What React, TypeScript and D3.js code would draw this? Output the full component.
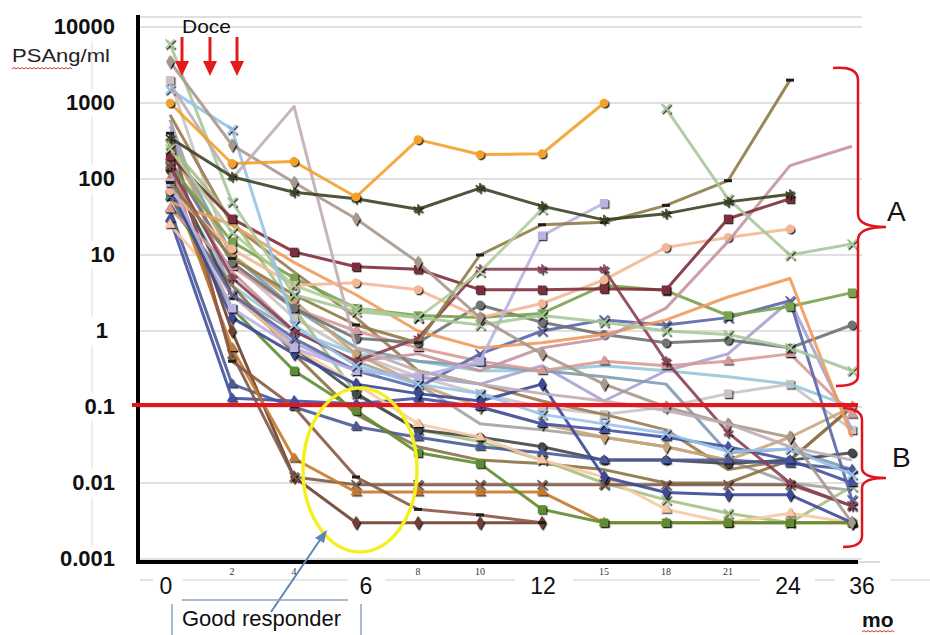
import React from 'react';
import * as d3 from 'd3';

// months after start of docetaxel (categorical, evenly spaced like the original sheet)
const months = ['0', '2', '4', '6', '8', '10', '12', '15', '18', '21', '24', '36'];
const smallMonthLabels = ['2', '4', '8', '10', '15', '18', '21'];
const bigMonthLabels = ['0', '6', '12', '24', '36'];
const yTicks = [0.001, 0.01, 0.1, 1, 10, 100, 1000, 10000];
const yTickLabels = ['0.001', '0.01', '0.1', '1', '10', '100', '1000', '10000'];

const _ = null;
// PSA (ng/ml) per patient
const p01 = [1000, 160, 170, 58, 330, 210, 215, 1000, _, _, _, _];
const p02 = [350, 107, 67, 55, 40, 76, 44, 29, 35, 50, 63, _];
const p03 = [1800, 100, 900, 0.6, 0.3, 0.2, 0.15, 0.12, 0.09, 0.06, 0.03, 0.02];
const p04 = [3500, 280, 90, 30, 8, 1.5, 0.5, 0.2, 0.1, 0.06, 0.04, 0.003];
const p05 = [1500, 450, 1.2, 0.35, 0.2, 0.15, 0.08, 0.06, 0.045, 0.026, 0.028, 0.013];
const p06 = [6000, 50, 3, 1.8, 1.5, 1.2, 1.6, 1.3, 1.0, 0.9, 0.6, 0.3];
const p07 = [_, _, _, _, _, _, _, _, 850, 55, 10, 14];
const p08 = [250, 20, 4, 2, 1.5, 6, 40, _, _, _, _, _];
const p09 = [90, 9, 3, 1.2, 0.7, 10, 25, 27, 45, 95, 2000, _];
const p10 = [200, 30, 11, 7, 6.5, 3.5, 3.5, 3.6, 3.5, 30, 55, _];
const p11 = [120, 6, 1, 0.4, 0.5, 0.3, 0.6, 0.8, 2, 15, 150, 270];
const p12 = [70, 12, 4, 4.3, 3.5, 1.5, 2.3, 4.7, 12.6, 17, 22, _];
const p13 = [50, 25, 8, 3, 1, 0.6, 0.7, 0.9, 1.4, 2.8, 4.9, 0.04];
const p14 = [150, 15, 5, 2, 1.6, 1.5, 1.7, 4, 3.4, 1.6, 2.1, 3.2];
const p15 = [180, 8, 2, 0.8, 0.7, 2.2, 1.3, 0.9, 0.7, 0.76, 0.6, 1.2];
const p16 = [80, 1.5, 0.5, 0.2, 0.15, 0.12, 0.2, 0.012, 0.0075, 0.007, 0.007, 0.003];
const p17 = [60, 3, 0.8, 0.3, 0.18, 0.5, 1, 1.4, 1.2, 1.5, 2.5, 0.006];
const p18 = [90, 2, 0.6, 0.3, 0.25, 0.4, 18, 48, _, _, _, _];
const p19 = [500, 3, 0.7, 0.3, 0.25, 0.2, 0.35, 0.12, 0.3, 0.5, 2.5, 0.05];
const p20 = [110, 4, 1, 0.5, 0.4, 0.3, 0.3, 0.35, 0.3, 0.25, 0.2, 0.1];
const p21 = [40, 7, 2, 1, 0.6, 0.4, 0.3, 0.4, 0.35, 0.4, 0.5, 0.08];
const p22 = [700, 25, 6, 1.5, 0.3, 0.2, 0.12, 0.08, 0.05, 0.015, 0.02, 0.1];
const p23 = [250, 10, 2.5, 0.5, 0.2, 0.1, 0.06, 0.04, 0.03, 0.02, 0.04, 0.1];
const p24 = [150, 5, 1, 0.4, 0.8, 6.5, 6.5, 6.5, 0.4, 0.046, 0.01, 0.005];
const p25 = [600, 3, 1, 0.4, 0.2, 0.06, 0.05, 0.04, 0.03, 0.02, 0.01, 0.008];
const p26 = [2000, 8, 1.5, 0.5, 0.25, 0.15, 0.1, 0.08, 0.1, 0.15, 0.2, 0.05];
const p27 = [200, 1, 0.012, 0.003, 0.003, 0.003, 0.003, _, _, _, _, _];
const p28 = [150, 0.5, 0.012, 0.0095, 0.0095, 0.0095, 0.0095, 0.0095, 0.0095, 0.0095, 0.0095, 0.005];
const p29 = [100, 0.6, 0.021, 0.0076, 0.0076, 0.0076, 0.0076, 0.003, 0.003, 0.003, 0.003, 0.003];
const p30 = [400, 0.4, 0.1, 0.012, 0.0045, 0.0038, 0.003, _, _, _, _, _];
const p31 = [60, 2, 0.3, 0.09, 0.025, 0.018, 0.0045, 0.003, 0.003, 0.003, 0.003, 0.003];
const p32 = [40, 0.2, 0.1, 0.055, 0.04, 0.03, 0.025, 0.02, 0.02, 0.02, 0.018, 0.015];
const p33 = [30, 0.13, 0.12, 0.11, 0.13, 0.1, 0.06, 0.05, 0.04, 0.03, 0.02, 0.01];
const p34 = [25, 3, 0.6, 0.2, 0.06, 0.04, 0.02, 0.012, 0.0045, 0.003, 0.004, 0.003];
const p35 = [45, 4, 0.5, 0.08, 0.03, 0.02, 0.018, 0.015, 0.01, 0.01, 0.02, 0.1];
const p36 = [280, 30, 2, 0.15, 0.05, 0.035, 0.02, 0.01, 0.006, 0.004, 0.003, 0.009];
const p37 = [130, 3, 0.6, 0.15, 0.05, 0.04, 0.03, 0.02, 0.02, 0.018, 0.02, 0.025];
const p38 = [350, 10, 2, 0.6, 0.4, 0.35, 0.3, 0.25, 0.2, 0.025, 0.028, 0.015];

type Mk = 'circle' | 'square' | 'diamond' | 'triangle' | 'times' | 'asterisk' | 'dash' | 'none';
const series: { v: (number | null)[]; color: string; mk: Mk }[] = [
  { v: p25, color: '#a3a3a3', mk: 'none' },
  { v: p26, color: '#cbc3c3', mk: 'square' },
  { v: p20, color: '#94c9d8', mk: 'none' },
  { v: p19, color: '#a9a3d3', mk: 'none' },
  { v: p38, color: '#7e9cb0', mk: 'none' },
  { v: p22, color: '#9b7a52', mk: 'none' },
  { v: p23, color: '#c9a574', mk: 'diamond' },
  { v: p35, color: '#8b7345', mk: 'none' },
  { v: p36, color: '#a3c283', mk: 'times' },
  { v: p37, color: '#44474a', mk: 'circle' },
  { v: p32, color: '#4d5a98', mk: 'triangle' },
  { v: p33, color: '#4352a4', mk: 'triangle' },
  { v: p34, color: '#f7c9a3', mk: 'triangle' },
  { v: p27, color: '#6f3f30', mk: 'diamond' },
  { v: p28, color: '#7d5a4a', mk: 'times' },
  { v: p29, color: '#c47a2e', mk: 'triangle' },
  { v: p30, color: '#8a5848', mk: 'dash' },
  { v: p31, color: '#5e8c30', mk: 'square' },
  { v: p21, color: '#d99a98', mk: 'triangle' },
  { v: p17, color: '#5a67a8', mk: 'times' },
  { v: p16, color: '#3d4896', mk: 'diamond' },
  { v: p15, color: '#6f7275', mk: 'circle' },
  { v: p14, color: '#79a24e', mk: 'square' },
  { v: p13, color: '#f19a5a', mk: 'none' },
  { v: p12, color: '#f3b795', mk: 'circle' },
  { v: p11, color: '#c4959e', mk: 'none' },
  { v: p18, color: '#b9b3e2', mk: 'square' },
  { v: p24, color: '#8b4052', mk: 'asterisk' },
  { v: p10, color: '#7d2f3c', mk: 'square' },
  { v: p09, color: '#8e7c46', mk: 'dash' },
  { v: p08, color: '#b2cc9a', mk: 'times' },
  { v: p07, color: '#a8c89a', mk: 'times' },
  { v: p06, color: '#a8c89a', mk: 'times' },
  { v: p05, color: '#98c2ea', mk: 'times' },
  { v: p04, color: '#a8988c', mk: 'diamond' },
  { v: p03, color: '#c0aeb4', mk: 'none' },
  { v: p02, color: '#3b4322', mk: 'asterisk' },
  { v: p01, color: '#f2a12a', mk: 'circle' },
];

const x = d3.scalePoint<string>().domain(months).range([170, 852]);
const y = d3.scaleLog().domain([0.001, 10000]).range([559, 27]);

const line = d3
  .line<number | null>()
  .defined((d) => d != null)
  .x((_d, i) => x(months[i]) as number)
  .y((d) => y(d as number));

const symTimes = (d3 as any).symbolTimes || d3.symbolCross;
const symAst = (d3 as any).symbolAsterisk || d3.symbolStar;
const symbols: Record<string, string> = {
  circle: d3.symbol(d3.symbolCircle, 60)() as string,
  square: d3.symbol(d3.symbolSquare, 70)() as string,
  diamond: d3.symbol(d3.symbolDiamond, 55)() as string,
  triangle: d3.symbol(d3.symbolTriangle, 50)() as string,
  times: d3.symbol(symTimes, 55)() as string,
  asterisk: d3.symbol(symAst, 70)() as string,
};

// red spell-check squiggle
const squiggle = (x0: number, x1: number, yy: number) => {
  let s = `M${x0},${yy}`;
  let up = true;
  for (let xx = x0 + 2; xx <= x1; xx += 2) {
    s += ` L${xx},${yy + (up ? -1.5 : 0)}`;
    up = !up;
  }
  return s;
};

const Marker = ({ mk, color, cx, cy }: { mk: Mk; color: string; cx: number; cy: number }) => {
  if (mk === 'none') return null;
  if (mk === 'dash')
    return <rect x={cx - 4} y={cy - 1.5} width={8} height={3} fill="#1e1e1e" />;
  const stroked = mk === 'times' || mk === 'asterisk';
  return (
    <path
      d={symbols[mk]}
      transform={`translate(${cx},${cy})`}
      fill={stroked ? 'none' : color}
      stroke={stroked ? color : 'none'}
      strokeWidth={stroked ? 1.6 : 0}
      filter="url(#shadow)"
    />
  );
};

export default function App() {
  const gridRight = 862;
  return (
    <svg
      width={930}
      height={635}
      style={{ position: 'absolute', left: 0, top: 0, background: '#fff' }}
      fontFamily="'Liberation Sans', Arial, sans-serif"
    >
      <defs>
        <filter id="shadow" x="-50%" y="-50%" width="200%" height="200%">
          <feDropShadow dx="1.3" dy="1.3" stdDeviation="0.6" floodColor="#000" floodOpacity="0.85" />
        </filter>
      </defs>

      {/* grid */}
      <line x1={140} x2={gridRight} y1={17} y2={17} stroke="#d6d6d6" strokeWidth={1.5} />
      {yTicks.map((t) => (
        <line key={t} x1={140} x2={gridRight} y1={y(t)} y2={y(t)} stroke="#d6d6d6" strokeWidth={1.5} />
      ))}

      {/* faint guide on the left of the axis labels */}
      {yTicks.slice(1).map((t, i) => (
        <line key={'g' + t} x1={92} x2={92} y1={y(t) + 14} y2={y(yTicks[i]) - 14} stroke="#e2e2e2" strokeWidth={1.2} />
      ))}

      {/* y tick labels */}
      {yTicks.map((t, i) => (
        <text key={'yl' + t} x={t === 1 ? 108 : 115} y={y(t) + 7} textAnchor="end" fontSize={22} fontWeight="bold" fill="#111">
          {yTickLabels[i]}
        </text>
      ))}

      <text x={12} y={62} fontSize={19} textLength={98} lengthAdjust="spacingAndGlyphs" fill="#222">
        PSAng/ml
      </text>
      <path d={squiggle(12, 72, 69)} fill="none" stroke="#d23030" strokeWidth={1} />

      {/* patient lines */}
      {series.map((s, si) => (
        <g key={si}>
          <path d={line(s.v) || ''} fill="none" stroke={s.color} strokeWidth={3} strokeOpacity={0.9} strokeLinejoin="round" />
          {s.v.map((v, i) =>
            v == null ? null : (
              <Marker key={i} mk={s.mk} color={s.color} cx={x(months[i]) as number} cy={y(v)} />
            )
          )}
        </g>
      ))}

      {/* axes */}
      <line x1={138} x2={138} y1={15} y2={564} stroke="#000" strokeWidth={4} />
      <line x1={136} x2={858} y1={562} y2={562} stroke="#000" strokeWidth={4} />
      <line x1={858} x2={880} y1={562} y2={562} stroke="#bbb" strokeWidth={1} />

      {/* 0.1 threshold */}
      <line x1={132} x2={858} y1={y(0.1) - 2} y2={y(0.1) - 2} stroke="#e8141c" strokeWidth={4} />

      {/* small month labels */}
      {smallMonthLabels.map((m) => (
        <text key={'sm' + m} x={x(m)} y={575} textAnchor="middle" fontSize={10} fontFamily="'Liberation Serif', serif" fill="#333">
          {m}
        </text>
      ))}
      {/* big month labels with thin rule */}
      {[
        [140, 153],
        [183, 348],
        [385, 515],
        [573, 760],
        [815, 835],
        [890, 930],
      ].map(([a, b], i) => (
        <line key={'r' + i} x1={a} x2={b} y1={580} y2={580} stroke="#cfcfcf" strokeWidth={1.2} />
      ))}
      {bigMonthLabels.map((m) => {
        const off: Record<string, number> = { '0': -4, '6': 10, '12': 1, '24': -2, '36': 10 };
        return (
          <text key={'bm' + m} x={(x(m) as number) + off[m]} y={594} textAnchor="middle" fontSize={23} fill="#111">
            {m}
          </text>
        );
      })}
      <text x={862} y={627} fontSize={21} fontWeight="bold" fill="#111">
        mo
      </text>
      <path d={squiggle(862, 894, 632)} fill="none" stroke="#d23030" strokeWidth={1} />

      {/* Docetaxel arrows */}
      <text x={182} y={33} fontSize={19} textLength={49} lengthAdjust="spacingAndGlyphs" fill="#111">
        Doce
      </text>
      {[182, 210, 237].map((ax) => (
        <g key={ax}>
          <line x1={ax} x2={ax} y1={37} y2={66} stroke="#e31b1b" strokeWidth={3} />
          <polygon points={`${ax - 7},61 ${ax + 7},61 ${ax},76`} fill="#e31b1b" />
        </g>
      ))}

      {/* braces */}
      <path
        d="M833,68 Q858,66 858,80 L858,214 Q858,227 886,227 Q858,227 858,240 L858,376 Q858,386 836,386"
        fill="none"
        stroke="#e0141c"
        strokeWidth={2.5}
      />
      <text x={887} y={221} fontSize={28} fill="#111">
        A
      </text>
      <path
        d="M843,408 Q862,409 862,420 L862,468 Q862,478 886,478 Q862,478 862,488 L862,536 Q862,547 843,547"
        fill="none"
        stroke="#e0141c"
        strokeWidth={2.5}
      />
      <text x={892} y={467} fontSize={28} fill="#111">
        B
      </text>

      {/* good responder callout */}
      <ellipse cx={360} cy={470} rx={57} ry={82} fill="none" stroke="#f4f020" strokeWidth={3.5} />
      <line x1={271} y1={612} x2={322} y2={537} stroke="#5b86b6" strokeWidth={2} />
      <polygon points="327,530 315,538 324,543" fill="#5b86b6" />
      <line x1={182} x2={348} y1={600} y2={600} stroke="#8ea3ba" strokeWidth={1.5} />
      <line x1={172} x2={172} y1={604} y2={635} stroke="#8ea3ba" strokeWidth={1.5} />
      <line x1={361} x2={361} y1={604} y2={635} stroke="#8ea3ba" strokeWidth={1.5} />
      <text x={182} y={626} fontSize={22} fill="#111">
        Good responder
      </text>
    </svg>
  );
}
